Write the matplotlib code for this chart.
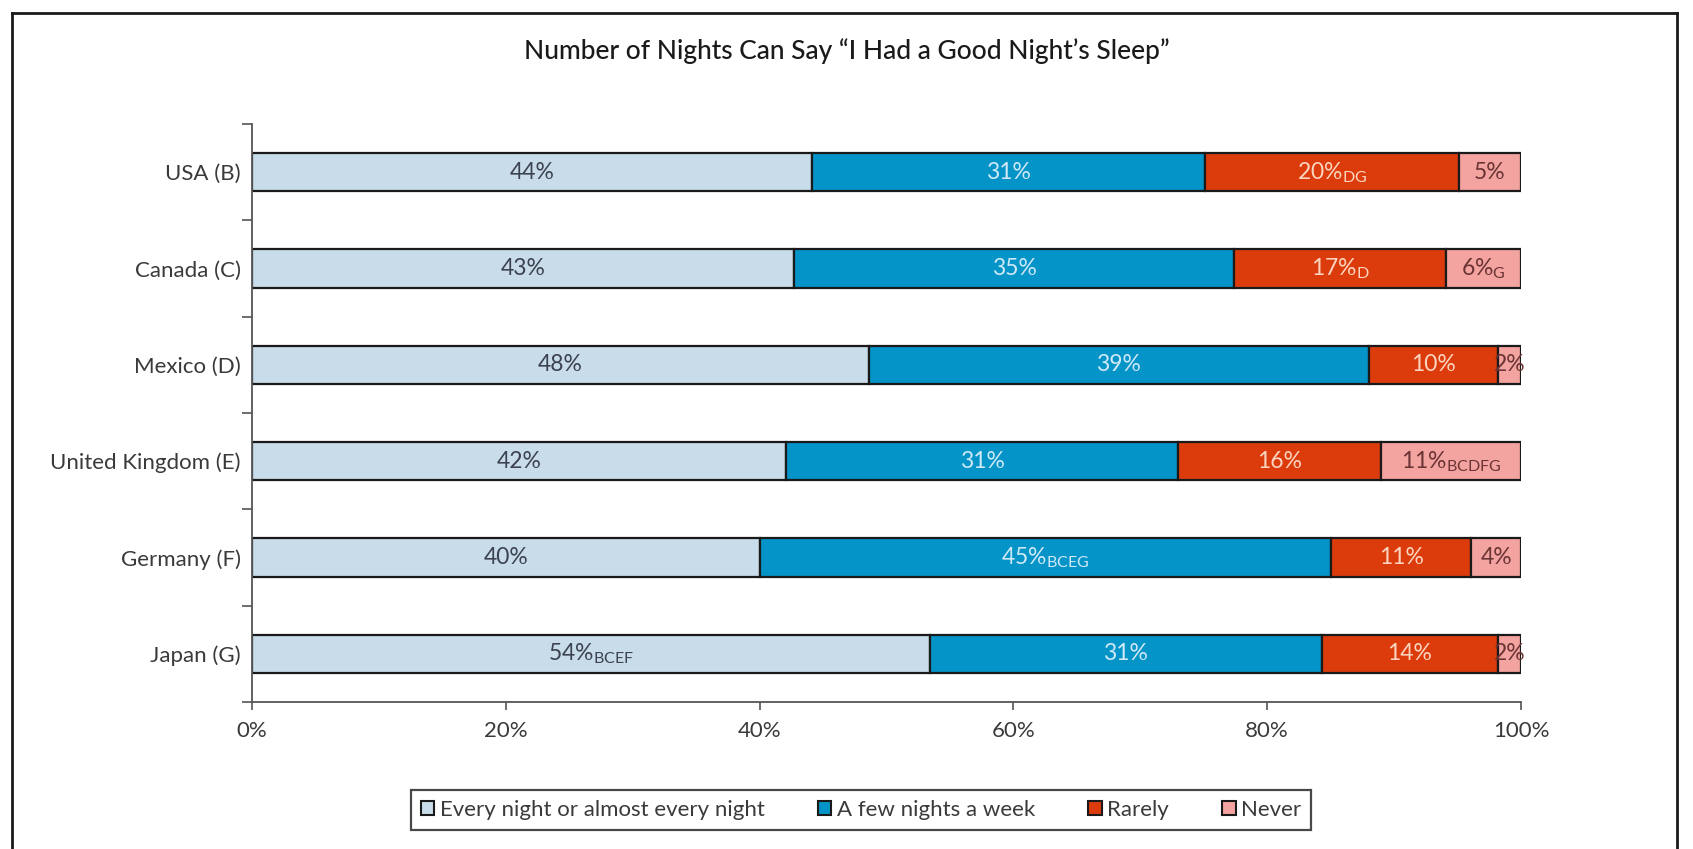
import matplotlib
matplotlib.use("Agg")
import matplotlib.pyplot as plt
from matplotlib.lines import Line2D
from matplotlib.patches import Patch
import numpy as np

plt.rcParams['font.family'] = ['Lato', 'DejaVu Sans']
plt.rcParams['mathtext.fontset'] = 'custom'
plt.rcParams['mathtext.rm'] = 'Lato'

countries = ["USA (B)", "Canada (C)", "Mexico (D)", "United Kingdom (E)", "Germany (F)", "Japan (G)"]
series = ["Every night or almost every night", "A few nights a week", "Rarely", "Never"]

every_night = [44.1, 42.7, 48.6, 42.1, 40.0, 53.4]
few_nights = [31.0, 34.7, 39.4, 30.9, 45.0, 30.9]
rarely = [20.0, 16.7, 10.2, 16.0, 11.1, 13.9]
never = [4.9, 5.9, 1.8, 11.0, 3.9, 1.8]

lab_every = ["44%", "43%", "48%", "42%", "40%", "54%$_\\mathregular{BCEF}$"]
lab_few = ["31%", "35%", "39%", "31%", "45%$_\\mathregular{BCEG}$", "31%"]
lab_rarely = ["20%$_\\mathregular{DG}$", "17%$_\\mathregular{D}$", "10%", "16%", "11%", "14%"]
lab_never = ["5%", "6%$_\\mathregular{G}$", "2%", "11%$_\\mathregular{BCDFG}$", "4%", "2%"]

colors = ["#c8dce9", "#0494c8", "#dc3c0c", "#f4a4a0"]
text_colors = ["#3c4250", "#cfe9f6", "#fbd5c0", "#6a3434"]

fig = plt.figure(figsize=(16.93, 8.49), dpi=100)
ax = fig.add_axes([0.1488, 0.1731, 0.7496, 0.6809])

y = np.arange(len(countries))
left = np.zeros(len(countries))
for vals, labs, c, tc in zip([every_night, few_nights, rarely, never],
                             [lab_every, lab_few, lab_rarely, lab_never],
                             colors, text_colors):
    bars = ax.barh(y, vals, left=left, height=0.40, color=c, edgecolor="#1a1a1a", linewidth=1.6)
    for b, lab in zip(bars, labs):
        ax.text(b.get_x() + b.get_width() / 2, b.get_y() + b.get_height() / 2, lab,
                ha="center", va="center", fontsize=16.5, color=tc)
    left = left + np.array(vals)

ax.set_xlim(0, 100)
ax.set_ylim(len(countries) - 0.5, -0.5)
ax.set_xticks(np.arange(0, 101, 20))
ax.set_xticklabels([f"{v}%" for v in range(0, 101, 20)], fontsize=16, color="#3a3a3a")
ax.set_yticks(y)
ax.set_yticklabels(countries, fontsize=16, color="#3a3a3a")
ax.set_yticks(np.arange(-0.5, len(countries), 1), minor=True)
ax.tick_params(axis="y", which="major", length=0, pad=8)
ax.tick_params(axis="y", which="minor", length=7, width=1.2, color="#555555")
ax.tick_params(axis="x", length=6, width=1.2, color="#555555", pad=8)
for s in ["top", "right"]:
    ax.spines[s].set_visible(False)
for s in ["left", "bottom"]:
    ax.spines[s].set_color("#555555")
    ax.spines[s].set_linewidth(1.3)

fig.text(0.5, 0.94, "Number of Nights Can Say \u201cI Had a Good Night\u2019s Sleep\u201d",
         ha="center", va="center", fontsize=19, fontweight="medium", color="#1a1a1a")

handles = [Patch(facecolor=c, edgecolor="#1a1a1a", linewidth=1.5) for c in colors]
leg = fig.legend(handles, series, loc="center", bbox_to_anchor=(0.5086, 0.046), ncol=4,
                 fontsize=16, frameon=True, fancybox=False, edgecolor="#1a1a1a",
                 handlelength=0.6, handleheight=0.6, handletextpad=0.25, columnspacing=2.4,
                 borderpad=0.45)
leg.get_frame().set_linewidth(1.6)
for t in leg.get_texts():
    t.set_color("#3a3a3a")

# outer frame
fx0, fy1, fx1 = 12 / 1693, 1 - 13 / 849, 1677 / 1693
fig.add_artist(Line2D([fx0, fx0], [0, fy1], color="#1a1a1a", lw=2))
fig.add_artist(Line2D([fx0, fx1], [fy1, fy1], color="#1a1a1a", lw=2))
fig.add_artist(Line2D([fx1, fx1], [0, fy1], color="#1a1a1a", lw=2))

fig.savefig("out.png", dpi=100)
